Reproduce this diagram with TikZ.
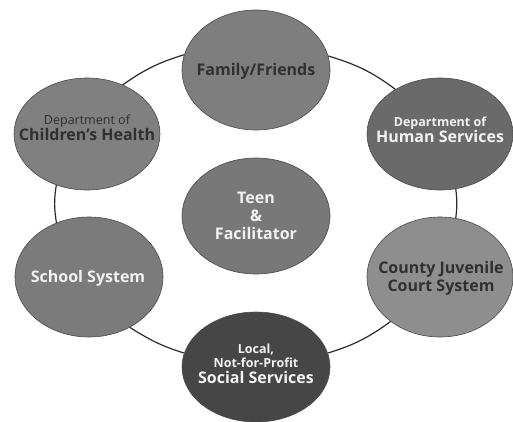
\documentclass[tikz,border=0pt]{standalone}
\usepackage{fontspec}
\setmainfont{Open Sans}
\usepackage{tikz}
\usetikzlibrary{shapes.geometric}
\definecolor{edgegray}{HTML}{4A4A4A}
\definecolor{ringgray}{HTML}{2B2B2B}
\definecolor{darktext}{HTML}{303030}
\definecolor{lighttext}{HTML}{F2F2F2}
\tikzset{bubble/.style = {ellipse, draw=edgegray, line width=0.6pt, inner sep=0}}
\tikzset{ringline/.style = {draw=ringgray, line width=1.2pt}}
\tikzset{lab/.style = {align=center, inner sep=0, font=\bfseries\fontsize{16}{18}\selectfont}}
\newcommand{\smalltxt}[1]{{\fontsize{12.5}{14}\selectfont #1}}

\begin{document}
\begin{tikzpicture}[x=1pt, y=1pt]
    \useasboundingbox (0, 0) rectangle (513, 421);

    % the seven bubbles
    \node [bubble, fill={rgb,255:red,126;green,126;blue,126}, minimum width=148, minimum height=120] (fam) at (256, 351) {};
    \node [bubble, fill={rgb,255:red,128;green,128;blue,128}, minimum width=146, minimum height=112] (chh) at (87, 287) {};
    \node [bubble, fill={rgb,255:red,106;green,106;blue,106}, minimum width=146, minimum height=112] (hum) at (440, 287) {};
    \node [bubble, fill={rgb,255:red,120;green,120;blue,120}, minimum width=148, minimum height=116] (teen) at (256, 205) {};
    \node [bubble, fill={rgb,255:red,123;green,123;blue,123}, minimum width=148, minimum height=120] (sch) at (89, 144) {};
    \node [bubble, fill={rgb,255:red,142;green,142;blue,142}, minimum width=146, minimum height=120] (cty) at (440, 144) {};
    \node [bubble, fill={rgb,255:red,70;green,70;blue,70}, minimum width=148, minimum height=110] (soc) at (256, 54) {};

    % labels
    \node [lab, text=darktext] (fam-t) at (256, 350) {Family/Friends};
    \node [lab, text=darktext] (chh-t) at (87, 293) {\smalltxt{\mdseries Department of}\\[-2pt] Children's Health};
    \node [lab, text=lighttext] (hum-t) at (440, 291) {\smalltxt{Department of}\\[-2pt] Human Services};
    \node [lab, text=lighttext] (teen-t) at (256, 205) {Teen\\ \&\\ Facilitator};
    \node [lab, text=lighttext] (sch-t) at (88, 143) {School System};
    \node [lab, text=darktext] (cty-t) at (441, 143) {County Juvenile\\ Court System};
    \node [lab, text=lighttext] (soc-t) at (256, 57) {\smalltxt{Local,}\\[-4pt] \smalltxt{Not-for-Profit}\\[-2pt] Social Services};

    % the ring
    \draw [ringline] (fam.168) to [out=197, in=35] (chh.54);
    \draw [ringline] (fam.11) to [out=-17, in=143] (hum.135);
    \draw [ringline] (chh.239) to [out=-99, in=99] (sch.121);
    \draw [ringline] (sch.309) to [out=-32, in=163] (soc.169);
    \draw [ringline] (soc.11) to [out=17, in=216] (cty.222);
    \draw [ringline] (cty.75) to [out=83, in=-83] (hum.286);
\end{tikzpicture}
\end{document}
